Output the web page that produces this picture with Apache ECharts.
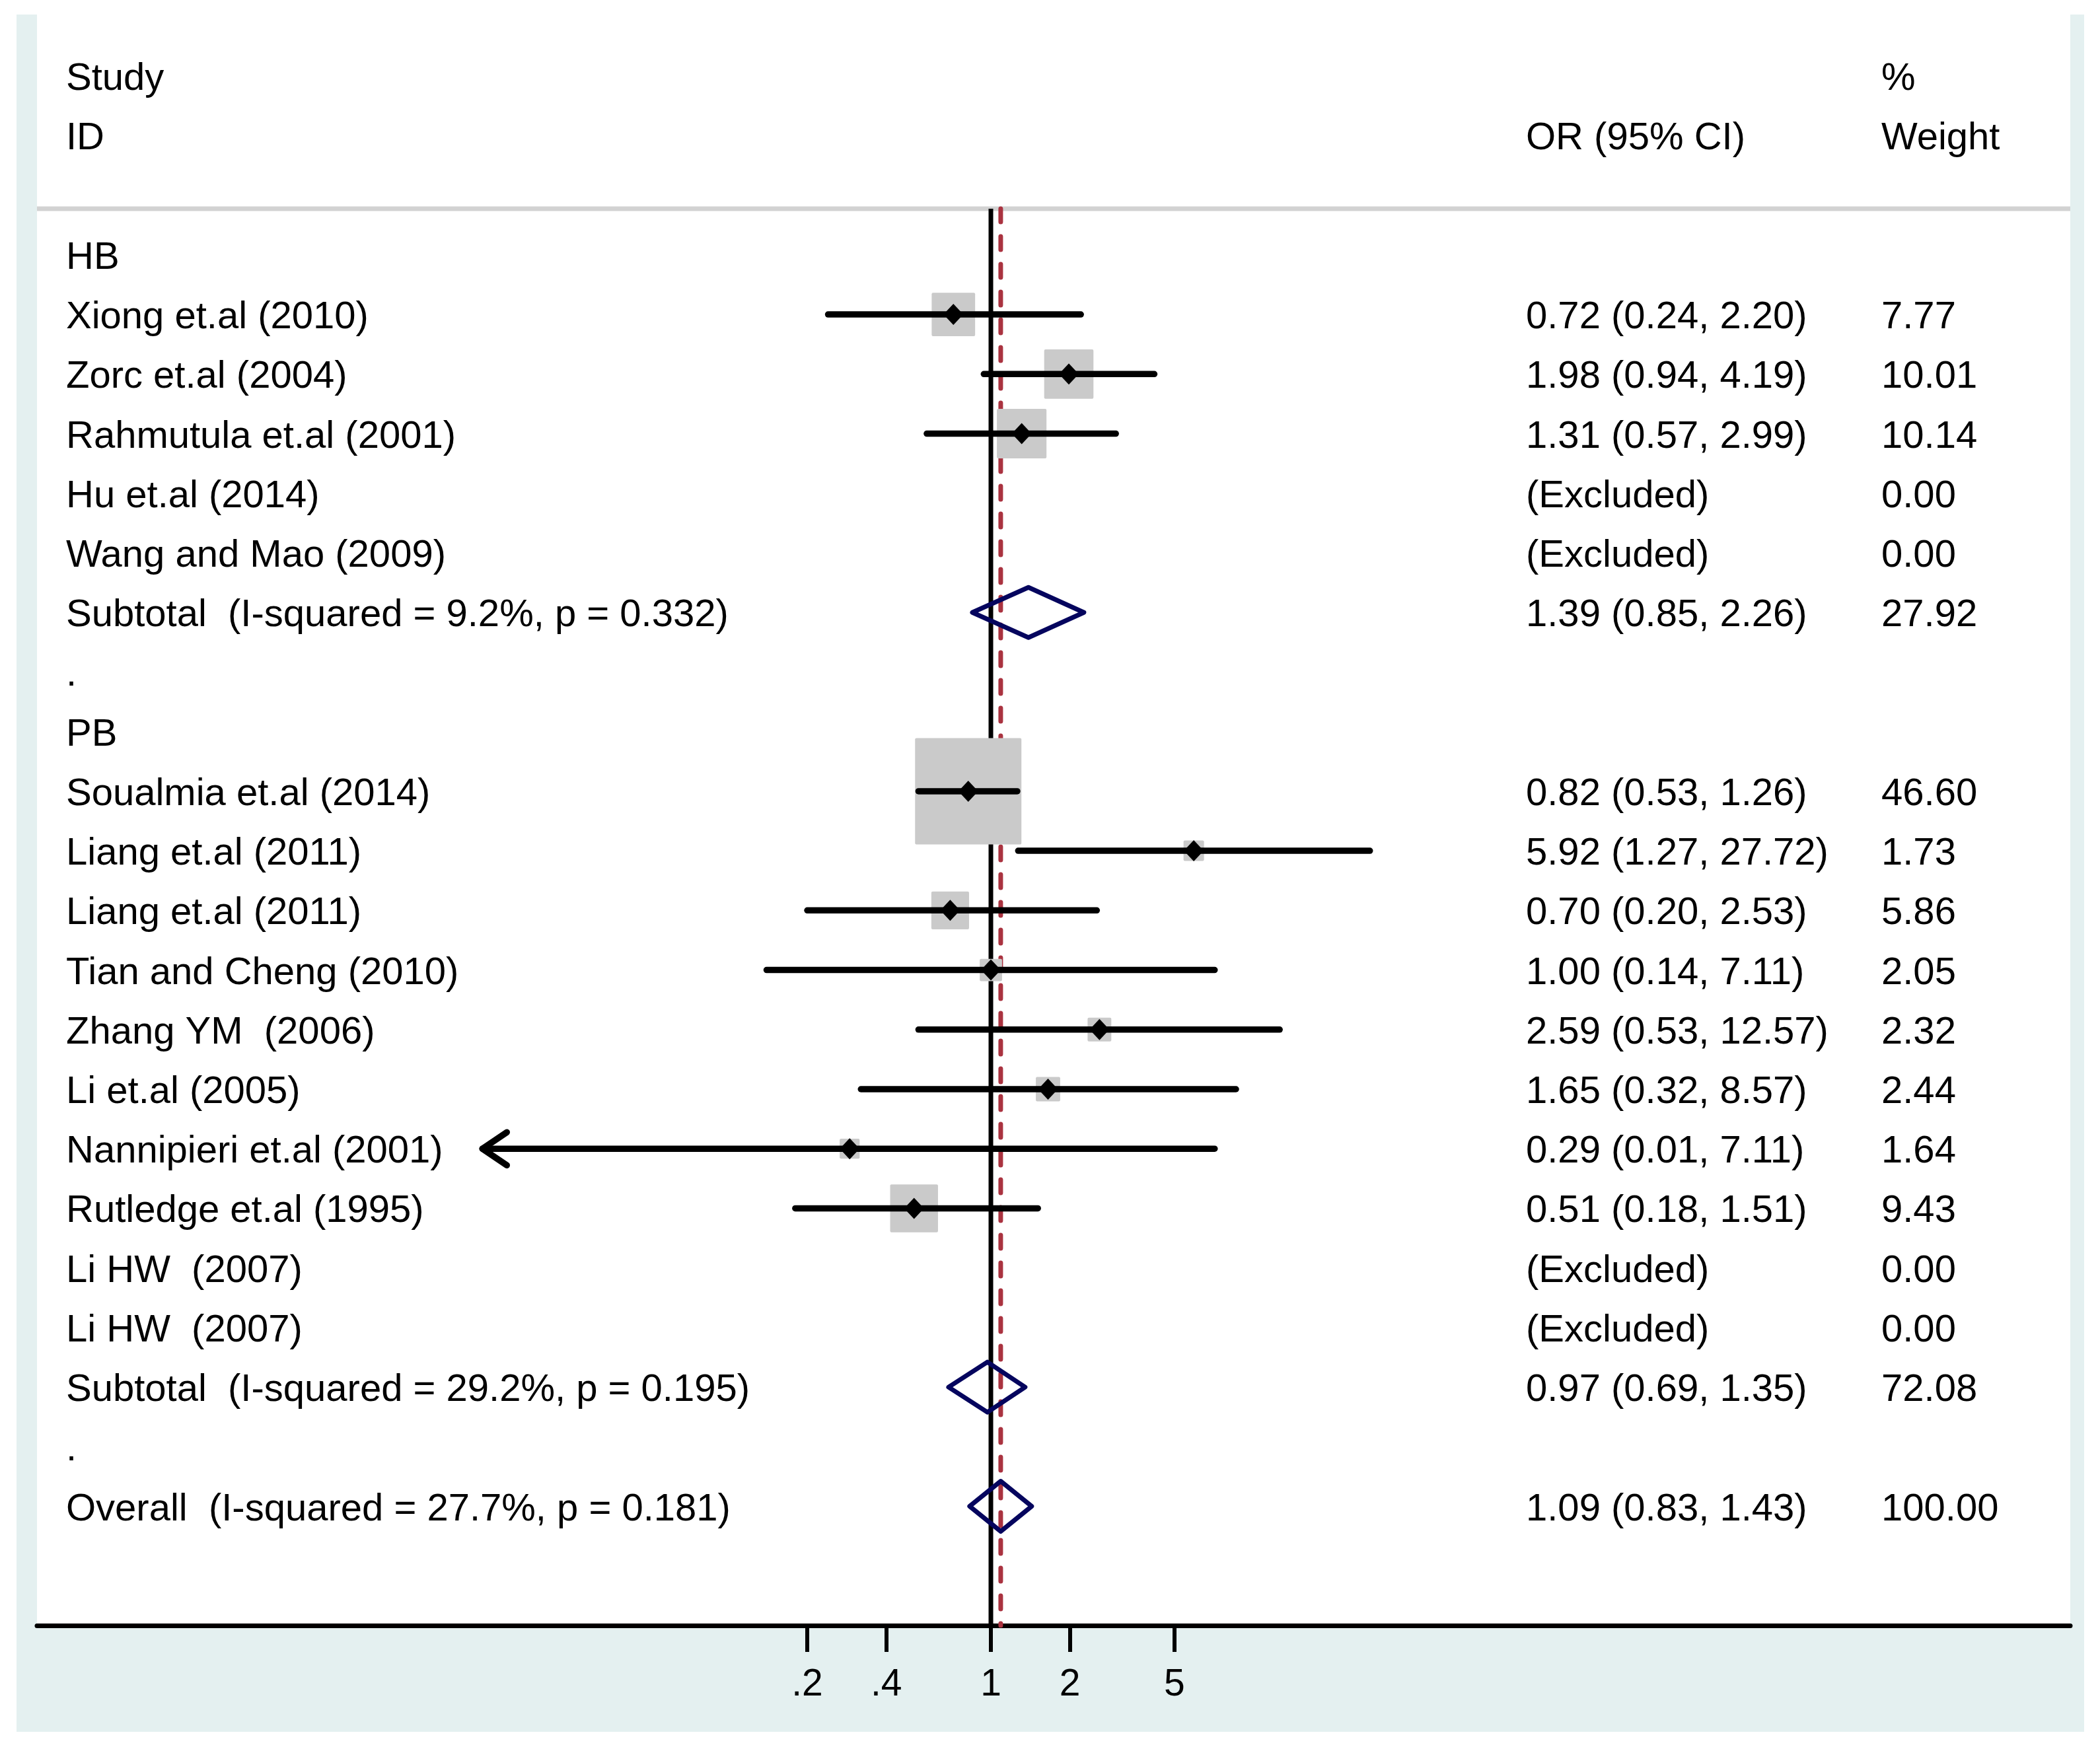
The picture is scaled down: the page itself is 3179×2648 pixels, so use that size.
<!DOCTYPE html>
<html>
<head>
<meta charset="utf-8">
<script src="https://cdn.jsdelivr.net/npm/echarts@6/dist/echarts.min.js"></script>
<style>
html,body{margin:0;padding:0;background:#fff}
#chart{width:3179px;height:2648px}
</style>
</head>
<body>
<div id="chart"></div>
<script>
// rows, top to bottom (row 0 = HB)
var rowLabels=['HB','Xiong et.al (2010)','Zorc et.al (2004)','Rahmutula et.al (2001)','Hu et.al (2014)','Wang and Mao (2009)',
  'Subtotal  (I-squared = 9.2%, p = 0.332)','.','PB','Soualmia et.al (2014)','Liang et.al (2011)','Liang et.al (2011)',
  'Tian and Cheng (2010)','Zhang YM  (2006)','Li et.al (2005)','Nannipieri et.al (2001)','Rutledge et.al (1995)',
  'Li HW  (2007)','Li HW  (2007)','Subtotal  (I-squared = 29.2%, p = 0.195)','.','Overall  (I-squared = 27.7%, p = 0.181)'];
var rowKind=['group','study','study','study','excluded','excluded','sub','blank','group','study','study','study',
  'study','study','study','study','study','excluded','excluded','sub','blank','sub'];
var orVal=[null,0.72,1.98,1.31,null,null,1.39,null,null,0.82,5.92,0.70,1.00,2.59,1.65,0.29,0.51,null,null,0.97,null,1.09];
var ciLow=[null,0.24,0.94,0.57,null,null,0.85,null,null,0.53,1.27,0.20,0.14,0.53,0.32,0.01,0.18,null,null,0.69,null,0.83];
var ciHigh=[null,2.20,4.19,2.99,null,null,2.26,null,null,1.26,27.72,2.53,7.11,12.57,8.57,7.11,1.51,null,null,1.35,null,1.43];
var weights=[null,7.77,10.01,10.14,0,0,27.92,null,null,46.60,1.73,5.86,2.05,2.32,2.44,1.64,9.43,0,0,72.08,null,100];
var orLabels=['','0.72 (0.24, 2.20)','1.98 (0.94, 4.19)','1.31 (0.57, 2.99)','(Excluded)','(Excluded)','1.39 (0.85, 2.26)','','',
  '0.82 (0.53, 1.26)','5.92 (1.27, 27.72)','0.70 (0.20, 2.53)','1.00 (0.14, 7.11)','2.59 (0.53, 12.57)','1.65 (0.32, 8.57)',
  '0.29 (0.01, 7.11)','0.51 (0.18, 1.51)','(Excluded)','(Excluded)','0.97 (0.69, 1.35)','','1.09 (0.83, 1.43)'];
var weightLabels=['','7.77','10.01','10.14','0.00','0.00','27.92','','','46.60','1.73','5.86','2.05','2.32','2.44','1.64','9.43',
  '0.00','0.00','72.08','','100.00'];

var headRows=[-3,-2];
var headLeft=['Study','ID'];
var headOR=['','OR (95% CI)'];
var headWeight=['%','Weight'];

var tickValues=[0.2,0.4,1,2,5];
var tickLabels=['.2','.4','1','2','5'];
var overallOR=1.09;
var clipLow=0.0116;   // left end of the drawn scale, CIs beyond get an arrow

var FONT='"Liberation Sans", Arial, Helvetica, sans-serif';
var lnMin=-8.361, lnMax=9.461;
var sepRow=-0.775, axisRow=23;

var studyData=[], diamondData=[], textData=[];
var maxW=0;
rowKind.forEach(function(k,i){ if(k=='study'&&weights[i]>maxW) maxW=weights[i]; });
rowKind.forEach(function(k,i){
  textData.push([i]);
  if(k=='study') studyData.push([i,Math.log(orVal[i]),Math.log(ciLow[i]),Math.log(ciHigh[i]),weights[i]]);
  if(k=='sub') diamondData.push([i,Math.log(orVal[i]),Math.log(ciLow[i]),Math.log(ciHigh[i])]);
});

function textEl(x,y,str){
  return {type:'text',x:x,y:y+5,style:{text:str,fill:'#000',fontSize:58,fontFamily:FONT,
    align:'left',verticalAlign:'middle',textAlign:'left',textVerticalAlign:'middle'}};
}

var myChart=echarts.init(document.getElementById('chart'));
myChart.setOption({
  backgroundColor:'#fff',
  animation:false,
  graphic:[
    {type:'rect',z:-20,silent:true,shape:{x:25,y:22,width:3130,height:2600},style:{fill:'#e4f0f0'}},
    {type:'rect',z:-19,silent:true,shape:{x:56,y:0,width:3078,height:2461},style:{fill:'#fff'}}
  ],
  grid:{left:56,right:45,top:25,bottom:187},
  xAxis:{
    type:'value',min:lnMin,max:lnMax,
    axisLine:{show:true,onZero:false,lineStyle:{color:'#000',width:7}},
    axisTick:{show:true,customValues:tickValues.map(Math.log),length:40,lineStyle:{color:'#000',width:6}},
    axisLabel:{show:true,customValues:tickValues.map(Math.log),margin:62,color:'#000',fontSize:57,fontFamily:FONT,
      formatter:function(v){
        var best=0;
        tickValues.forEach(function(t,i){ if(Math.abs(Math.log(t)-v)<Math.abs(Math.log(tickValues[best])-v)) best=i; });
        return tickLabels[best];
      }},
    splitLine:{show:false}
  },
  yAxis:{type:'value',inverse:true,min:-4,max:axisRow,show:false},
  series:[
    {
      name:'header line',type:'line',symbol:'none',z:1,silent:true,
      data:[[lnMin,sepRow],[lnMax,sepRow]],
      lineStyle:{color:'#d2d2d2',width:7}
    },
    {
      name:'null line',type:'line',symbol:'none',z:1,silent:true,
      data:[[0,sepRow],[0,axisRow]],
      lineStyle:{color:'#000',width:7}
    },
    {
      name:'overall line',type:'line',symbol:'none',z:1,silent:true,
      data:[[Math.log(overallOR),sepRow],[Math.log(overallOR),axisRow]],
      lineStyle:{color:'#aa3340',width:7,type:[20,22],cap:'round'}
    },
    {
      name:'studies',type:'custom',z:3,silent:true,
      data:studyData,
      renderItem:function(params,api){
        var row=api.value(0);
        var c=api.coord([api.value(1),row]);
        var y=c[1];
        var lowV=api.value(2), arrow=false;
        if(lowV<Math.log(clipLow)){ lowV=Math.log(clipLow); arrow=true; }
        var xl=api.coord([lowV,row])[0];
        var xh=api.coord([api.value(3),row])[0];
        var side=161*Math.sqrt(api.value(4)/maxW);
        var kids=[
          {type:'rect',z2:1,shape:{x:c[0]-side/2,y:y-side/2,width:side,height:side,r:2},style:{fill:'#cacaca'}},
          {type:'line',z2:2,shape:{x1:xl,y1:y,x2:xh,y2:y},style:{stroke:'#000',lineWidth:9.5,lineCap:'round'}},
          {type:'polygon',z2:3,shape:{points:[[c[0]-15,y],[c[0],y-16],[c[0]+15,y],[c[0],y+16]]},style:{fill:'#000'}}
        ];
        if(arrow){
          kids.push({type:'polyline',z2:2,shape:{points:[[xl+37,y-25],[xl,y],[xl+37,y+25]]},
            style:{stroke:'#000',lineWidth:9.5,lineCap:'round',lineJoin:'round',fill:'none'}});
        }
        return {type:'group',children:kids};
      }
    },
    {
      name:'pooled',type:'custom',z:4,silent:true,
      data:diamondData,
      renderItem:function(params,api){
        var row=api.value(0);
        var c=api.coord([api.value(1),row]);
        var xl=api.coord([api.value(2),row])[0];
        var xh=api.coord([api.value(3),row])[0];
        var h=38;
        return {type:'polygon',shape:{points:[[xl,c[1]],[c[0],c[1]-h],[xh,c[1]],[c[0],c[1]+h]]},
          style:{fill:'none',stroke:'#05055e',lineWidth:7,lineJoin:'round'}};
      }
    },
    {
      name:'labels',type:'custom',z:5,silent:true,
      data:textData,
      renderItem:function(params,api){
        var i=api.value(0);
        var y=api.coord([0,i])[1];
        return {type:'group',children:[
          textEl(100,y,rowLabels[i]),
          textEl(2310,y,orLabels[i]),
          textEl(2848,y,weightLabels[i])
        ]};
      }
    },
    {
      name:'header',type:'custom',z:5,silent:true,
      data:headRows.map(function(r,i){return [r,i];}),
      renderItem:function(params,api){
        var i=api.value(1);
        var y=api.coord([0,api.value(0)])[1];
        return {type:'group',children:[
          textEl(100,y,headLeft[i]),
          textEl(2310,y,headOR[i]),
          textEl(2848,y,headWeight[i])
        ]};
      }
    }
  ]
});
</script>
</body>
</html>
